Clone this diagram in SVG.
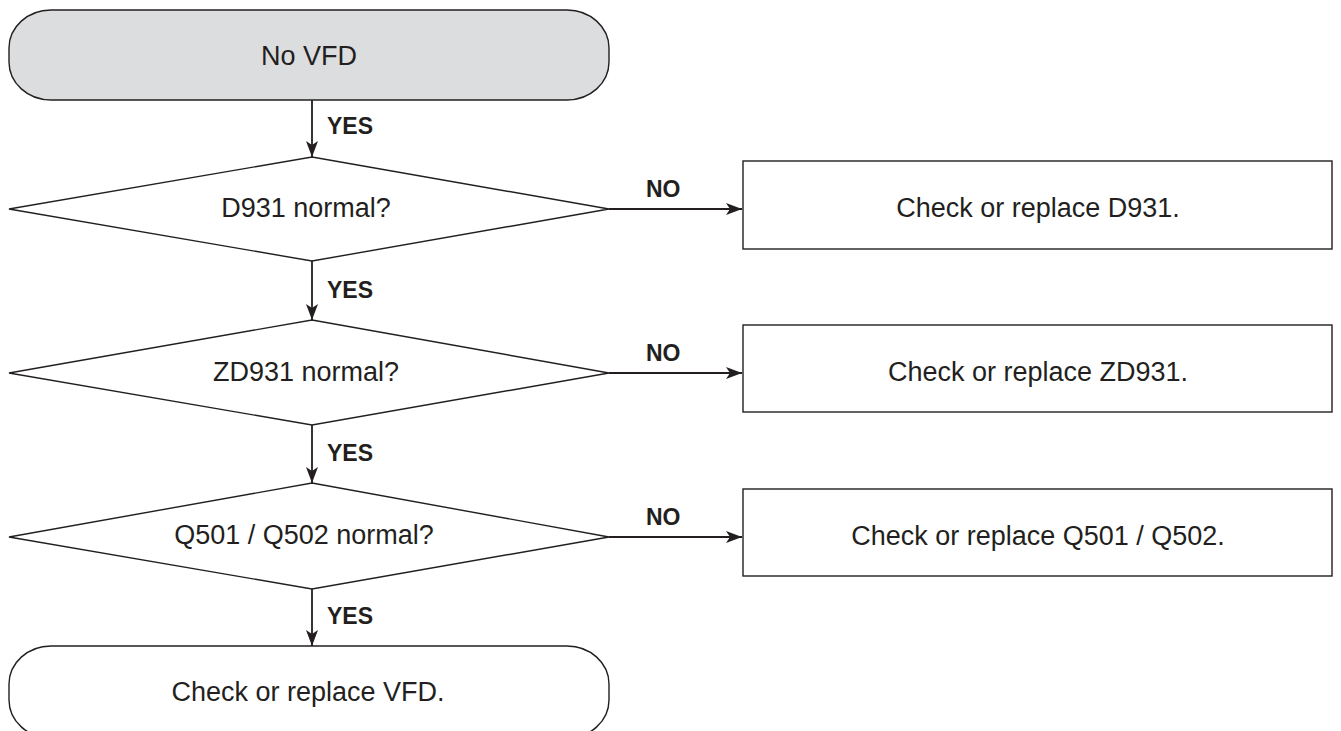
<svg xmlns="http://www.w3.org/2000/svg" width="1341" height="731" viewBox="0 0 1341 731">
  <style>
    .shape { fill: #ffffff; stroke: #231f20; stroke-width: 1.4; }
    .start { fill: #dcddde; stroke: #231f20; stroke-width: 1.4; }
    .link { fill: none; stroke: #231f20; stroke-width: 1.8; }
    .label { font-family: "Liberation Sans", Arial, sans-serif; font-size: 27px; fill: #231f20; text-anchor: middle; dominant-baseline: central; }
    .edge { font-family: "Liberation Sans", Arial, sans-serif; font-size: 23px; font-weight: bold; fill: #231f20; }
  </style>
  <defs>
    <marker id="arrow" viewBox="0 0 16 12" refX="16" refY="6" markerWidth="16" markerHeight="12" markerUnits="userSpaceOnUse" orient="auto">
      <path d="M0,0 L16,6 L0,12 L4,6 Z" fill="#231f20"/>
    </marker>
  </defs>

  <rect width="1341" height="731" fill="#ffffff"/>

  <!-- connectors -->
  <g id="connectors">
    <line class="link" x1="312" y1="100" x2="312" y2="157" marker-end="url(#arrow)"/>
    <line class="link" x1="312" y1="261" x2="312" y2="320" marker-end="url(#arrow)"/>
    <line class="link" x1="312" y1="425" x2="312" y2="483" marker-end="url(#arrow)"/>
    <line class="link" x1="312" y1="589" x2="312" y2="646" marker-end="url(#arrow)"/>
    <line class="link" x1="609" y1="209" x2="742" y2="209" marker-end="url(#arrow)"/>
    <line class="link" x1="609" y1="373" x2="742" y2="373" marker-end="url(#arrow)"/>
    <line class="link" x1="609" y1="537" x2="742" y2="537" marker-end="url(#arrow)"/>
    <text class="edge" x="327" y="134">YES</text>
    <text class="edge" x="327" y="298">YES</text>
    <text class="edge" x="327" y="461">YES</text>
    <text class="edge" x="327" y="624">YES</text>
    <text class="edge" x="646" y="197">NO</text>
    <text class="edge" x="646" y="361">NO</text>
    <text class="edge" x="646" y="525">NO</text>
  </g>

  <!-- start terminator -->
  <g id="start">
    <rect class="start" x="9" y="10" width="600" height="90" rx="42" ry="38"/>
    <text class="label" x="309" y="56">No VFD</text>
  </g>

  <!-- decisions -->
  <g id="d931">
    <polygon class="shape" points="312,157 609,209 312,261 9,209"/>
    <text class="label" x="306" y="208">D931 normal?</text>
  </g>
  <g id="zd931">
    <polygon class="shape" points="312,320 609,373 312,425 9,373"/>
    <text class="label" x="306" y="372">ZD931 normal?</text>
  </g>
  <g id="q501">
    <polygon class="shape" points="312,483 609,537 312,589 9,537"/>
    <text class="label" x="304" y="535">Q501 / Q502 normal?</text>
  </g>

  <!-- actions -->
  <g id="fix-d931">
    <rect class="shape" x="743" y="161" width="589" height="88"/>
    <text class="label" x="1038" y="208">Check or replace D931.</text>
  </g>
  <g id="fix-zd931">
    <rect class="shape" x="743" y="325" width="589" height="87"/>
    <text class="label" x="1038" y="372">Check or replace ZD931.</text>
  </g>
  <g id="fix-q501">
    <rect class="shape" x="743" y="489" width="589" height="87"/>
    <text class="label" x="1038" y="536">Check or replace Q501 / Q502.</text>
  </g>

  <!-- end terminator -->
  <g id="end">
    <rect class="shape" x="9" y="646" width="600" height="92" rx="42" ry="38"/>
    <text class="label" x="308" y="692">Check or replace VFD.</text>
  </g>
</svg>
